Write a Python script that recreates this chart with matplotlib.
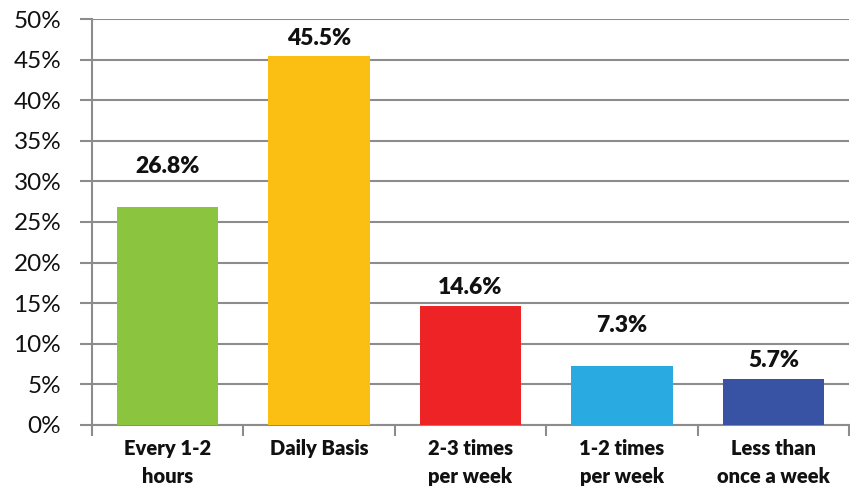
import matplotlib
matplotlib.use("Agg")
import matplotlib.pyplot as plt
import numpy as np

categories = ["Every 1-2\nhours", "Daily Basis", "2-3 times\nper week", "1-2 times\nper week", "Less than\nonce a week"]
values = [26.8, 45.5, 14.6, 7.3, 5.7]
colors = ["#8BC53F", "#FBBF14", "#EE2326", "#29ABE2", "#3853A4"]
yticks = [0, 5, 10, 15, 20, 25, 30, 35, 40, 45, 50]

# label gap above each bar (in % units), some labels sit higher in the original
label_gap = [3.8, 0.8, 1.0, 3.6, 0.9]

plt.rcParams['font.family'] = ['Lato', 'DejaVu Sans']

fig = plt.figure(figsize=(8.5, 4.9), dpi=100)
ax = fig.add_axes([0.108, 0.133, 0.891, 0.828])

x = np.arange(len(categories))
ax.bar(x, values, width=0.67, color=colors, zorder=3)

for xi, v, g in zip(x, values, label_gap):
    ax.text(xi, v + g, f"{v:.1f}%", ha="center", va="bottom",
            fontsize=16.5, fontweight="heavy", color="#111111")

ax.set_xlim(-0.5, len(categories) - 0.5)
ax.set_ylim(0, 50)
ax.set_yticks(yticks)
ax.set_yticklabels([f"{t}%" for t in yticks], fontsize=17.5, color="#111111")
ax.yaxis.grid(True, color="#8c8c8c", linewidth=1.5, zorder=0)

# category labels centred, tick marks at the boundaries
ax.set_xticks(x)
ax.set_xticklabels(categories, fontsize=14.5, fontweight="heavy", color="#111111",
                   linespacing=1.6)
ax.tick_params(axis="x", length=0, pad=10)
ax.set_xticks(np.arange(-0.5, len(categories)), minor=True)
ax.tick_params(axis="x", which="minor", length=8, width=1.5, color="#8c8c8c")
ax.tick_params(axis="y", length=9, width=1.5, color="#8c8c8c", pad=13)

for side in ["top", "right"]:
    ax.spines[side].set_visible(False)
for side in ["left", "bottom"]:
    ax.spines[side].set_color("#8c8c8c")
    ax.spines[side].set_linewidth(1.5)

fig.savefig("out.png", dpi=100)
